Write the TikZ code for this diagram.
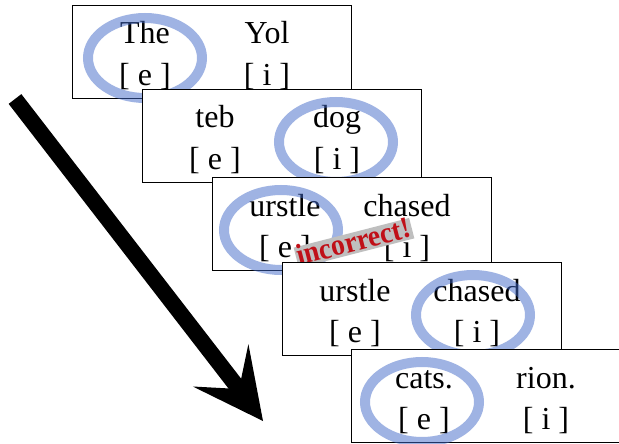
\documentclass[tikz,border=0pt]{standalone}
\usepackage{fontspec}
\setmainfont{Liberation Serif}
\definecolor{ringblue}{RGB}{64,104,200}
\definecolor{errred}{RGB}{192,16,24}
\tikzset{
  panelbox/.style={draw=black, line width=1pt, fill=white, minimum width=279pt,
    minimum height=93pt, inner sep=0pt, anchor=north west},
  word/.style={anchor=base, inner sep=0pt, font=\fontsize{32}{38}\selectfont},
  ring/.style={draw=ringblue, line width=10pt, opacity=0.5},
  errtag/.style={fill=gray!50, text=errred, font=\fontsize{30}{32}\selectfont\bfseries,
    rotate=14.4, inner xsep=1pt, inner ysep=0pt, text height=19pt, text depth=2pt},
}
% #1 name, #2 x0, #3 y0, #4 left word, #5 right word, #6 ring x offset
\newcommand\mypanel[6]{%
  \node[panelbox] (#1) at (#2,#3) {};
  \node[word] (#1lw) at ({#2+73},{#3+39}) {#4};
  \node[word] (#1rw) at ({#2+195},{#3+39}) {#5};
  \node[word] (#1lb) at ({#2+73},{#3+80}) {[ e ]};
  \node[word] (#1rb) at ({#2+195},{#3+80}) {[ i ]};
  \coordinate (#1ring) at ({#2+#6},{#3+53});
  \draw[ring] (#1ring) ellipse [x radius=57pt, y radius=40pt];
}
\begin{document}
\begin{tikzpicture}[x=1pt,y=-1pt]
\useasboundingbox (0,0) rectangle (619,444);
\mypanel{p1}{72}{5}{The}{Yol}{73}
\mypanel{p2}{142}{89}{teb}{dog}{194}
\mypanel{p3}{212}{177}{urstle}{chased}{69}
\node[errtag] (err) at (354,243) {\scalebox{0.93}[1]{incorrect!}};
\mypanel{p4}{282}{262}{urstle}{chased}{191}
\mypanel{p5}{351}{349}{cats.}{rion.}{71}
% arrow
\coordinate (astart) at (15,99);
\coordinate (atip) at (263,421);
\coordinate (anotch) at (239,389);
\coordinate (abarbA) at (248.4,344.1);
\coordinate (abarbB) at (192.8,386.5);
\draw[line width=16pt] (astart) -- (anotch);
\fill (atip) -- (abarbA) -- (anotch) -- (abarbB) -- cycle;
\end{tikzpicture}
\end{document}
